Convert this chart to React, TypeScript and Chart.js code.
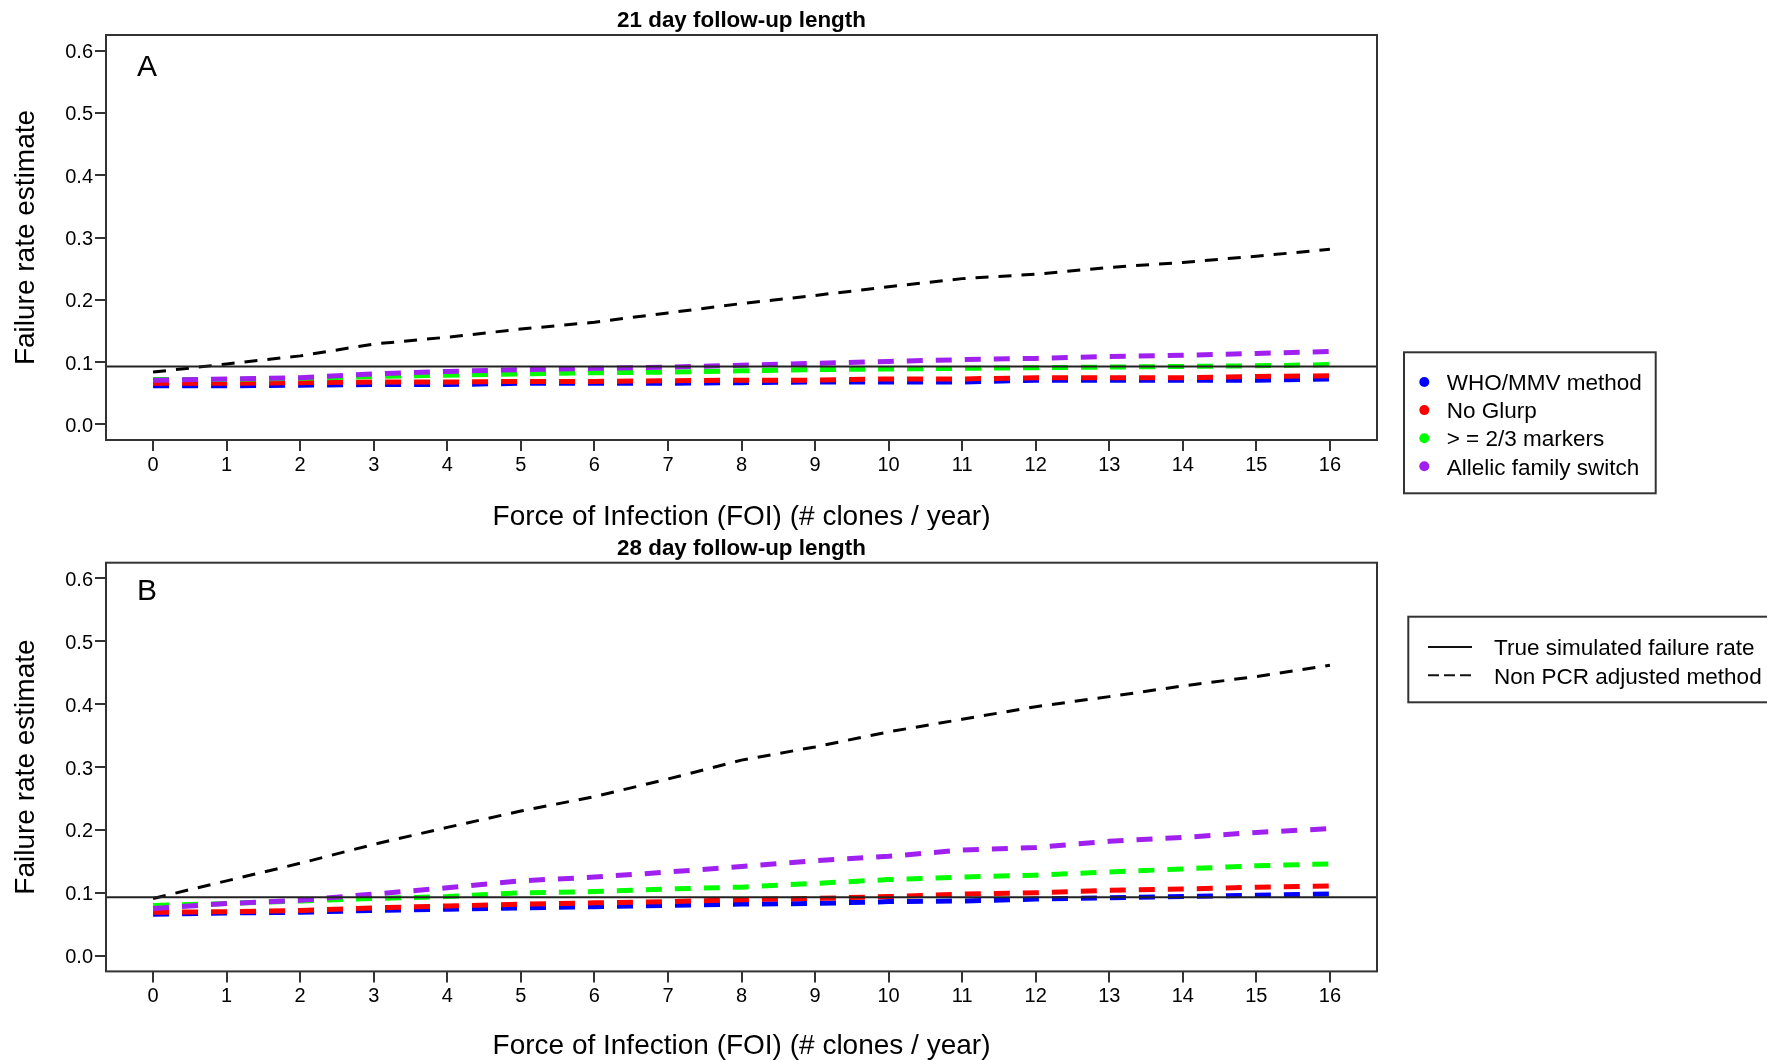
import React, { useEffect, useRef } from 'react';
import { Chart, registerables } from 'chart.js';

Chart.register(...registerables);

// ---------------- data ----------------
const FOI = [0, 1, 2, 3, 4, 5, 6, 7, 8, 9, 10, 11, 12, 13, 14, 15, 16];
const X_TICKS = [0, 1, 2, 3, 4, 5, 6, 7, 8, 9, 10, 11, 12, 13, 14, 15, 16];
const Y_TICKS = [0, 0.1, 0.2, 0.3, 0.4, 0.5, 0.6];
const X_MIN = -0.64;
const X_MAX = 16.64;
const Y_MIN = -0.025;
const Y_MAX = 0.625;

const METHOD_LABELS = ['WHO/MMV method', 'No Glurp', '> = 2/3 markers', 'Allelic family switch'];
const METHOD_COLORS = ['#0000FF', '#FF0000', '#00FF00', '#A020F0'];
const LINE_LABELS = ['True simulated failure rate', 'Non PCR adjusted method'];

const X_TITLE = 'Force of Infection (FOI) (# clones / year)';
const Y_TITLE = 'Failure rate estimate';

// 21 day follow-up
const TRUE_RATE_21 = 0.093;
const NON_PCR_21 = [0.084, 0.097, 0.110, 0.129, 0.140, 0.153, 0.164, 0.179, 0.194, 0.207, 0.221, 0.234, 0.241, 0.252, 0.260, 0.270, 0.281];
const WHO_21 = [0.062, 0.062, 0.063, 0.064, 0.064, 0.066, 0.066, 0.066, 0.067, 0.068, 0.068, 0.068, 0.071, 0.071, 0.071, 0.071, 0.073];
const NOGLURP_21 = [0.066, 0.066, 0.067, 0.068, 0.068, 0.069, 0.069, 0.070, 0.071, 0.071, 0.073, 0.073, 0.075, 0.075, 0.075, 0.077, 0.078];
const MARKERS_21 = [0.072, 0.072, 0.074, 0.077, 0.079, 0.081, 0.083, 0.084, 0.086, 0.088, 0.089, 0.090, 0.091, 0.092, 0.093, 0.094, 0.096];
const ALLELIC_21 = [0.071, 0.073, 0.075, 0.081, 0.085, 0.088, 0.090, 0.092, 0.095, 0.098, 0.101, 0.104, 0.106, 0.109, 0.111, 0.114, 0.117];

// 28 day follow-up
const TRUE_RATE_28 = 0.093;
const NON_PCR_28 = [0.091, 0.119, 0.147, 0.177, 0.204, 0.230, 0.253, 0.281, 0.311, 0.332, 0.356, 0.376, 0.396, 0.412, 0.429, 0.444, 0.462];
const WHO_28 = [0.066, 0.068, 0.069, 0.072, 0.074, 0.076, 0.078, 0.080, 0.082, 0.083, 0.086, 0.087, 0.090, 0.092, 0.094, 0.096, 0.098];
const NOGLURP_28 = [0.069, 0.070, 0.072, 0.076, 0.079, 0.082, 0.084, 0.086, 0.089, 0.091, 0.094, 0.098, 0.100, 0.104, 0.106, 0.109, 0.111];
const MARKERS_28 = [0.080, 0.083, 0.087, 0.091, 0.094, 0.100, 0.102, 0.106, 0.109, 0.115, 0.121, 0.125, 0.128, 0.133, 0.138, 0.143, 0.146];
const ALLELIC_28 = [0.075, 0.083, 0.088, 0.098, 0.108, 0.119, 0.125, 0.133, 0.142, 0.151, 0.158, 0.168, 0.172, 0.182, 0.188, 0.196, 0.202];

// ---------------- styling ----------------
const FONT = '"Liberation Sans", Arial, Helvetica, sans-serif';
const W = 1767;
const AXIS_COLOR = '#333333';

type LegendSpec =
  | { kind: 'points'; box: [number, number, number, number]; markX: number; textX: number; rowY: number; rowGap: number }
  | { kind: 'lines'; box: [number, number, number, number]; lineX1: number; lineX2: number; textX: number; rowY: number; rowGap: number };

interface PanelSpec {
  title: string;
  letter: string;
  letterDy: number;
  xTitleDy: number;
  trueRate: number;
  nonPcr: number[];
  methods: number[][];
  canvasTop: number;
  canvasHeight: number;
  areaTop: number;
  areaBottom: number;
  legend: LegendSpec;
}

const PANELS: PanelSpec[] = [
  {
    title: '21 day follow-up length',
    letter: 'A',
    letterDy: 41,
    xTitleDy: 77,
    trueRate: TRUE_RATE_21,
    nonPcr: NON_PCR_21,
    methods: [WHO_21, NOGLURP_21, MARKERS_21, ALLELIC_21],
    canvasTop: 0,
    canvasHeight: 530,
    areaTop: 35,
    areaBottom: 440,
    legend: { kind: 'points', box: [1404, 352.3, 251.7, 141], markX: 1424.3, textX: 1446.7, rowY: 384, rowGap: 28.1 },
  },
  {
    title: '28 day follow-up length',
    letter: 'B',
    letterDy: 37.5,
    xTitleDy: 75,
    trueRate: TRUE_RATE_28,
    nonPcr: NON_PCR_28,
    methods: [WHO_28, NOGLURP_28, MARKERS_28, ALLELIC_28],
    canvasTop: 530,
    canvasHeight: 531,
    areaTop: 32.7,
    areaBottom: 441.4,
    legend: { kind: 'lines', box: [1408.3, 86.7, 420, 85.6], lineX1: 1428, lineX2: 1472, textX: 1494, rowY: 119, rowGap: 28.3 },
  },
];

const Y_AXIS_W = 100;
const X_AXIS_H = 60;
const AREA_LEFT = 106;
const AREA_RIGHT = 1377;

const decorPlugin = {
  id: 'panelDecor',
  afterDraw(chart: any, _args: any, opts: any) {
    const p: PanelSpec = opts.panel;
    const { ctx, chartArea: a } = chart;
    ctx.save();
    // plot box
    ctx.strokeStyle = AXIS_COLOR;
    ctx.lineWidth = 2;
    ctx.setLineDash([]);
    ctx.strokeRect(a.left, a.top, a.right - a.left, a.bottom - a.top);

    ctx.fillStyle = '#000';
    // title
    ctx.font = `bold 22.4px ${FONT}`;
    ctx.textAlign = 'center';
    ctx.textBaseline = 'alphabetic';
    ctx.fillText(p.title, (a.left + a.right) / 2, a.top - 8);

    // panel letter
    ctx.font = `30px ${FONT}`;
    ctx.textAlign = 'left';
    ctx.fillText(p.letter, a.left + 31, a.top + p.letterDy);

    // x title
    ctx.font = `28px ${FONT}`;
    ctx.textAlign = 'center';
    ctx.textBaseline = 'middle';
    ctx.fillText(X_TITLE, (a.left + a.right) / 2, a.bottom + p.xTitleDy);

    // y title
    ctx.save();
    ctx.translate(26, (a.top + a.bottom) / 2);
    ctx.rotate(-Math.PI / 2);
    ctx.fillText(Y_TITLE, 0, 0);
    ctx.restore();

    // legend
    const lg = p.legend;
    ctx.strokeStyle = AXIS_COLOR;
    ctx.lineWidth = 2;
    ctx.strokeRect(lg.box[0], lg.box[1], lg.box[2], lg.box[3]);
    ctx.font = `22.5px ${FONT}`;
    ctx.textAlign = 'left';
    ctx.textBaseline = 'middle';
    if (lg.kind === 'points') {
      METHOD_LABELS.forEach((lab, i) => {
        const y = lg.rowY + i * lg.rowGap;
        ctx.fillStyle = METHOD_COLORS[i];
        ctx.beginPath();
        ctx.arc(lg.markX, y - 2, 5, 0, Math.PI * 2);
        ctx.fill();
        ctx.fillStyle = '#000';
        ctx.fillText(lab, lg.textX, y);
      });
    } else {
      LINE_LABELS.forEach((lab, i) => {
        const y = lg.rowY + i * lg.rowGap;
        ctx.strokeStyle = '#111';
        ctx.lineWidth = 2;
        ctx.setLineDash(i === 0 ? [] : [11, 5]);
        ctx.beginPath();
        ctx.moveTo(lg.lineX1, y - 2);
        ctx.lineTo(lg.lineX2, y - 2);
        ctx.stroke();
        ctx.setLineDash([]);
        ctx.fillStyle = '#000';
        ctx.fillText(lab, lg.textX, y);
      });
    }
    ctx.restore();
  },
};

function buildConfig(p: PanelSpec): any {
  const pts = (arr: number[]) => FOI.map((x, i) => ({ x, y: arr[i] }));
  const methodSets = p.methods.map((arr, i) => ({
    label: METHOD_LABELS[i],
    data: pts(arr),
    borderColor: METHOD_COLORS[i],
    backgroundColor: METHOD_COLORS[i],
    borderWidth: 5,
    borderDash: [16, 13],
    borderCapStyle: 'butt',
    pointRadius: 0,
    tension: 0,
    fill: false,
    order: 5 - i,
  }));
  const datasets = [
    {
      label: LINE_LABELS[0],
      data: [
        { x: X_MIN, y: p.trueRate },
        { x: X_MAX, y: p.trueRate },
      ],
      borderColor: '#222',
      borderWidth: 2,
      pointRadius: 0,
      fill: false,
      order: 0,
    },
    {
      label: LINE_LABELS[1],
      data: pts(p.nonPcr),
      borderColor: '#000',
      borderWidth: 3,
      borderDash: [13, 10],
      borderCapStyle: 'butt',
      pointRadius: 0,
      fill: false,
      order: 1,
    },
    ...methodSets,
  ];
  return {
    type: 'line',
    data: { datasets },
    plugins: [decorPlugin],
    options: {
      responsive: false,
      animation: false,
      events: [],
      layout: {
        padding: {
          left: AREA_LEFT - Y_AXIS_W,
          right: W - AREA_RIGHT,
          top: p.areaTop,
          bottom: p.canvasHeight - p.areaBottom - X_AXIS_H,
        },
      },
      plugins: {
        legend: { display: false },
        title: { display: false },
        tooltip: { enabled: false },
        panelDecor: { panel: p },
      },
      scales: {
        x: {
          type: 'linear',
          min: X_MIN,
          max: X_MAX,
          afterBuildTicks: (s: any) => {
            s.ticks = X_TICKS.map((v) => ({ value: v }));
          },
          afterFit: (s: any) => {
            s.height = X_AXIS_H;
          },
          ticks: {
            autoSkip: false,
            maxRotation: 0,
            minRotation: 0,
            padding: 2,
            color: '#000',
            font: { family: FONT, size: 20 },
            callback: (v: any) => String(v),
          },
          grid: { drawOnChartArea: false, drawTicks: true, tickLength: 11, color: AXIS_COLOR, lineWidth: 2 },
          border: { display: false },
        },
        y: {
          type: 'linear',
          min: Y_MIN,
          max: Y_MAX,
          afterBuildTicks: (s: any) => {
            s.ticks = Y_TICKS.map((v) => ({ value: v }));
          },
          afterFit: (s: any) => {
            s.width = Y_AXIS_W;
          },
          ticks: {
            padding: 2,
            labelOffset: 2,
            color: '#000',
            font: { family: FONT, size: 20 },
            callback: (v: any) => Number(v).toFixed(1),
          },
          grid: { drawOnChartArea: false, drawTicks: true, tickLength: 11, color: AXIS_COLOR, lineWidth: 2 },
          border: { display: false },
        },
      },
    },
  };
}

function PanelChart({ panel }: { panel: PanelSpec }) {
  const ref = useRef<HTMLCanvasElement>(null);
  useEffect(() => {
    const chart = new Chart(ref.current as HTMLCanvasElement, buildConfig(panel));
    return () => chart.destroy();
  }, [panel]);
  return (
    <canvas
      ref={ref}
      width={W}
      height={panel.canvasHeight}
      style={{ position: 'absolute', left: 0, top: panel.canvasTop, width: W, height: panel.canvasHeight, display: 'block' }}
    />
  );
}

export default function App() {
  return (
    <div style={{ position: 'absolute', left: 0, top: 0, width: W, height: 1061, background: '#fff', overflow: 'hidden' }}>
      {PANELS.map((p) => (
        <PanelChart key={p.letter} panel={p} />
      ))}
    </div>
  );
}
